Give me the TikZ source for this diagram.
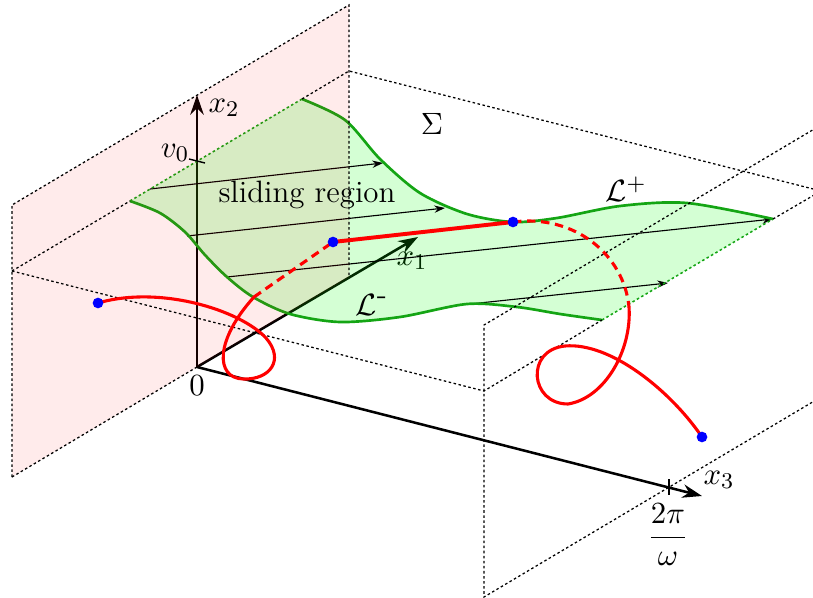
\documentclass[tikz,border=0pt]{standalone}
\usetikzlibrary{arrows.meta}
\definecolor{lgreen}{RGB}{20,165,20}
\begin{document}
\begin{tikzpicture}[x=0.0125cm,y=-0.0125cm,
  lbl/.style={font=\fontsize{11}{13}\selectfont, inner sep=0pt},
  frame/.style={line width=0.45pt, dash pattern=on 0.9pt off 0.9pt},
  gframe/.style={line width=0.55pt, dash pattern=on 0.9pt off 0.9pt, draw=lgreen},
  gcurve/.style={line width=0.95pt, draw=lgreen},
  axis/.style={line width=0.9pt, -{Stealth[length=7pt,width=4.8pt]}},
  flow/.style={line width=0.4pt, -{Stealth[length=3.8pt,width=2.6pt]}},
  traj/.style={red, line width=1.1pt, line cap=round},
  trajd/.style={red, line width=1.1pt, dash pattern=on 3pt off 2pt},
  dot/.style={circle, fill=blue, inner sep=0pt, minimum size=3.8pt},
]
\useasboundingbox (0,0) rectangle (813,598);

% key points
\coordinate (O) at (197,367);
\coordinate (A) at (12,477);
\coordinate (B) at (349,277);
\coordinate (C) at (349,5);
\coordinate (D) at (12,205);
\coordinate (E) at (12,271);
\coordinate (F) at (349,71);
\coordinate (Ep) at (484,391);
\coordinate (Fp) at (821,191);
\coordinate (G) at (484,597);
\coordinate (Gt) at (484,325);
\coordinate (Gtr) at (821,125);
\coordinate (Gbr) at (821,397);
\coordinate (Lm0) at (130,201);
\coordinate (Lp0) at (302,99);
\coordinate (Lm1) at (602,320);
\coordinate (Lp1) at (773,219);
\coordinate (X1) at (418,237);
\coordinate (X2) at (197,95);
\coordinate (X3) at (702,496);
\coordinate (V0a) at (189,159);
\coordinate (V0b) at (205,163);

% axes
\draw[axis] (O) -- (X1);
\draw[axis] (O) -- (X2);
\draw[axis] (O) -- (X3);
\node[lbl] (lx1) at (412,261) {$x_1$};

% sliding surface (green)
\fill[green, fill opacity=0.17] (Lp0) -- plot[smooth] coordinates {(302,99) (345,120) (380,159) (420,193) (467,214) (513,222) (557,218) (620,206) (687,203) (773,219)}
  -- (Lm1) -- plot[smooth] coordinates {(602,320) (560,314) (517,307) (467,304) (400,317) (340,322) (290,314) (253,297) (227,277) (205,255) (185,232) (160,213) (130,201)} -- cycle;

% sliding flow arrows
\draw[flow] (150,189) -- (383,163);
\draw[flow] (187,236) -- (445,208);
\draw[flow] (227,277) -- (Lp1);
\draw[flow] (470,304) -- (668,283);

% boundaries L+ and L-
\draw[gcurve] plot[smooth] coordinates {(302,99) (345,120) (380,159) (420,193) (467,214) (513,222) (557,218) (620,206) (687,203) (773,219)};
\draw[gcurve] plot[smooth] coordinates {(130,201) (160,213) (185,232) (205,255) (227,277) (253,297) (290,314) (340,322) (400,317) (467,304) (517,307) (560,314) (602,320)};
\draw[gframe] (Lm0) -- (Lp0);
\draw[gframe] (Lm1) -- (Lp1);

% pink plane x3 = 0
\fill[red, fill opacity=0.08] (A) -- (B) -- (C) -- (D) -- cycle;

% dotted frame
\draw[frame] (A) -- (D) -- (C) -- (B);
\draw[frame] (A) -- (O);
\draw[frame] (E) -- (Lm0);
\draw[frame] (Lp0) -- (F) -- (Fp);
\draw[frame] (E) -- (Ep) -- (Lm1);
\draw[frame] (Lp1) -- (Fp);
\draw[frame] (Gtr) -- (Gt) -- (G) -- (Gbr);

% ticks
\draw[line width=0.5pt] (V0a) -- (V0b);
\draw[line width=0.5pt] (669,479) -- (669,495);

% labels
\node[lbl] (lx2) at (224,108) {$x_2$};
\node[lbl] (lv0) at (175,153) {$v_0$};
\node[lbl] (lsr) at (307,195) {sliding region};
\node[lbl] (lS) at (432,124) {$\Sigma$};
\node[lbl] (lLp) at (626,189) {$\mathcal{L}^+$};
\node[lbl] (lLm) at (372,305) {$\mathcal{L}^{\textrm{-}}$};
\node[lbl] (l0) at (197,386) {$0$};
\node[lbl] (lx3) at (719,480) {$x_3$};
\node[lbl] (lT) at (668,535) {$\displaystyle\frac{2\pi}{\omega}$};

% trajectory
\coordinate (t0) at (98,303);
\coordinate (t1) at (266,338);
\coordinate (t2) at (243,379);
\coordinate (t3) at (254,297);
\coordinate (s0) at (333,242);
\coordinate (s1) at (513,222);
\coordinate (u1) at (629,307);
\coordinate (u2) at (568,404);
\coordinate (u3) at (565,346);
\coordinate (u4) at (702,437);
\draw[traj] (t0) .. controls (160,285) and (240,310) .. (t1)
  .. controls (285,360) and (270,380) .. (t2)
  .. controls (215,378) and (215,340) .. (t3);
\draw[trajd] (t3) -- (s0);
\draw[red, line width=1.4pt] (s0) -- (s1);
\draw[trajd] (s1) .. controls (575,214) and (624,255) .. (u1);
\draw[traj] (u1) .. controls (632,350) and (605,398) .. (u2)
  .. controls (530,404) and (525,350) .. (u3)
  .. controls (610,342) and (670,390) .. (u4);

\node[dot] (p1) at (t0) {};
\node[dot] (p2) at (s0) {};
\node[dot] (p3) at (s1) {};
\node[dot] (p4) at (u4) {};
\end{tikzpicture}
\end{document}
